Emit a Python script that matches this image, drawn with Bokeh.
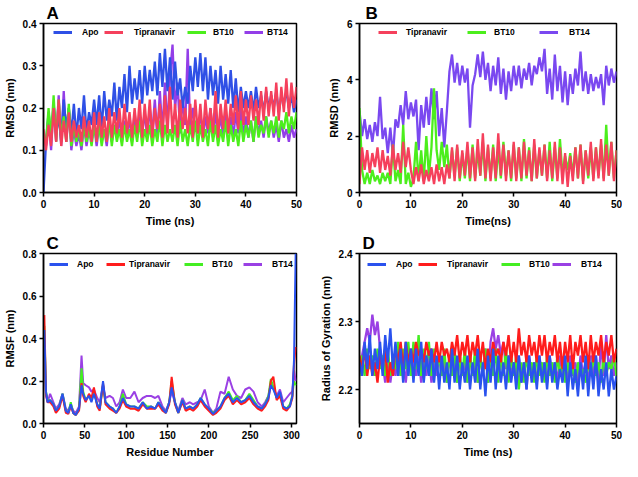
from bokeh.plotting import figure
from bokeh.layouts import gridplot
from bokeh.models import Legend, LegendItem, Range1d, FixedTicker, PrintfTickFormatter
from bokeh.embed import file_html
from bokeh.resources import INLINE

FONT = "Liberation Sans"

# ---------------- Panel A : RMSD (nm) ----------------
time_a = [i * 0.5 for i in range(101)]
a_apo = [0.0,
         0.12, 0.19, 0.13, 0.21, 0.14, 0.18, 0.12, 0.22, 0.15, 0.2,
         0.14, 0.21, 0.13, 0.2, 0.15, 0.23, 0.14, 0.19, 0.16, 0.22,
         0.16, 0.23, 0.15, 0.24, 0.17, 0.22, 0.18, 0.26, 0.17, 0.25,
         0.2, 0.28, 0.19, 0.3, 0.21, 0.27, 0.22, 0.29, 0.21, 0.3,
         0.23, 0.29, 0.24, 0.31, 0.23, 0.33, 0.25, 0.34, 0.24, 0.32,
         0.22, 0.31, 0.23, 0.27, 0.2, 0.25, 0.21, 0.3, 0.24, 0.32,
         0.25, 0.33, 0.24, 0.32, 0.22, 0.3, 0.23, 0.29, 0.21, 0.3,
         0.22, 0.28, 0.21, 0.29, 0.2, 0.27, 0.19, 0.25, 0.2, 0.24,
         0.2, 0.24, 0.19, 0.25, 0.2, 0.23, 0.19, 0.24, 0.2, 0.23,
         0.2, 0.24, 0.19, 0.23, 0.21, 0.24, 0.2, 0.23, 0.19, 0.22]
a_tip = [0.15,
         0.1, 0.16, 0.11, 0.2, 0.12, 0.22, 0.11, 0.17, 0.12, 0.19,
         0.12, 0.17, 0.13, 0.16, 0.12, 0.18, 0.13, 0.17, 0.12, 0.19,
         0.12, 0.19, 0.13, 0.18, 0.12, 0.2, 0.13, 0.19, 0.14, 0.2,
         0.13, 0.21, 0.14, 0.19, 0.13, 0.2, 0.14, 0.22, 0.13, 0.21,
         0.14, 0.22, 0.13, 0.2, 0.15, 0.21, 0.13, 0.23, 0.14, 0.25,
         0.14, 0.21, 0.13, 0.22, 0.15, 0.2, 0.14, 0.21, 0.13, 0.22,
         0.14, 0.21, 0.13, 0.22, 0.15, 0.2, 0.14, 0.24, 0.13, 0.21,
         0.15, 0.22, 0.14, 0.21, 0.16, 0.23, 0.15, 0.24, 0.16, 0.22,
         0.16, 0.23, 0.17, 0.22, 0.16, 0.24, 0.17, 0.25, 0.18, 0.24,
         0.18, 0.26, 0.17, 0.25, 0.19, 0.27, 0.18, 0.26, 0.2, 0.25]
a_bt10 = [0.13,
          0.12, 0.2, 0.13, 0.23, 0.12, 0.22, 0.13, 0.18, 0.12, 0.21,
          0.11, 0.16, 0.12, 0.15, 0.11, 0.16, 0.12, 0.15, 0.11, 0.16,
          0.12, 0.16, 0.11, 0.15, 0.12, 0.17, 0.11, 0.16, 0.12, 0.15,
          0.11, 0.16, 0.12, 0.15, 0.11, 0.16, 0.12, 0.17, 0.11, 0.15,
          0.12, 0.16, 0.11, 0.15, 0.12, 0.17, 0.11, 0.16, 0.12, 0.15,
          0.12, 0.16, 0.11, 0.17, 0.12, 0.15, 0.11, 0.16, 0.12, 0.17,
          0.11, 0.16, 0.12, 0.15, 0.11, 0.17, 0.12, 0.16, 0.11, 0.15,
          0.12, 0.17, 0.11, 0.16, 0.12, 0.15, 0.11, 0.17, 0.12, 0.16,
          0.13, 0.17, 0.12, 0.18, 0.13, 0.16, 0.14, 0.18, 0.13, 0.17,
          0.14, 0.18, 0.13, 0.17, 0.15, 0.19, 0.14, 0.18, 0.15, 0.19]
a_bt14 = [0.14,
          0.11, 0.18, 0.1, 0.21, 0.12, 0.23, 0.11, 0.24, 0.12, 0.2,
          0.1, 0.15, 0.11, 0.14, 0.1, 0.16, 0.11, 0.15, 0.12, 0.16,
          0.11, 0.16, 0.12, 0.15, 0.11, 0.17, 0.12, 0.16, 0.13, 0.18,
          0.12, 0.17, 0.13, 0.18, 0.12, 0.19, 0.13, 0.18, 0.14, 0.19,
          0.13, 0.2, 0.14, 0.22, 0.13, 0.24, 0.14, 0.26, 0.15, 0.28,
          0.35, 0.2, 0.26, 0.14, 0.22, 0.16, 0.34, 0.15, 0.2, 0.15,
          0.14, 0.19, 0.13, 0.18, 0.14, 0.2, 0.13, 0.19, 0.14, 0.18,
          0.13, 0.19, 0.14, 0.18, 0.13, 0.19, 0.14, 0.2, 0.13, 0.18,
          0.13, 0.17, 0.12, 0.18, 0.14, 0.17, 0.13, 0.18, 0.14, 0.17,
          0.13, 0.16, 0.12, 0.17, 0.13, 0.15, 0.12, 0.16, 0.13, 0.15]

# ---------------- Panel B : RMSD (nm) ----------------
time_b = [i * 0.5 for i in range(101)]
b_bt14 = [2.9,
          2.0, 2.6, 1.9, 2.4, 1.8, 2.5, 2.0, 3.4, 1.9, 2.3,
          1.4, 2.3, 1.3, 2.6, 2.3, 3.1, 2.4, 3.6, 2.6, 3.2,
          2.7, 3.3, 1.5, 3.1, 2.3, 3.4, 2.4, 3.7, 2.6, 3.6,
          2.0, 3.0, 1.6, 2.9, 4.3, 4.9, 3.9, 4.6, 3.8, 4.5,
          3.9, 4.4, 2.3, 3.8, 4.2, 4.9, 4.1, 5.0, 4.0, 4.6,
          3.6, 4.5, 3.8, 4.8, 3.5, 4.4, 3.3, 4.3, 3.6, 4.5,
          3.8, 4.5, 3.7, 4.4, 4.0, 4.6, 3.8, 4.5, 4.2, 4.8,
          4.3, 5.1, 3.5, 4.4, 3.3, 4.9, 3.6, 4.5, 3.2, 4.3,
          3.1, 4.2, 3.5, 4.4, 3.8, 5.0, 3.6, 4.3, 3.5, 4.2,
          3.6, 4.1, 3.7, 4.2, 3.1, 4.5, 3.8, 4.4, 3.9, 4.3]
b_tip = [0.3,
         1.6, 0.8, 1.5, 0.7, 1.4, 0.9, 1.6, 0.7, 1.5, 0.8,
         1.3, 0.6, 1.7, 0.8, 1.4, 0.7, 1.8, 0.9, 1.6, 0.8,
         0.3, 0.9, 0.4, 1.0, 0.3, 0.8, 0.4, 0.9, 0.3, 1.0,
         0.4, 0.9, 0.3, 1.0, 0.5, 1.6, 0.4, 1.7, 0.5, 1.5,
         0.6, 1.8, 0.5, 1.6, 0.4, 1.9, 0.6, 2.1, 0.5, 1.7,
         0.4, 1.6, 0.5, 2.1, 0.6, 1.7, 0.4, 1.5, 0.5, 1.8,
         0.4, 1.6, 0.5, 1.8, 0.6, 1.5, 0.4, 1.9, 0.5, 1.6,
         0.6, 1.7, 0.4, 1.5, 0.5, 1.8, 0.4, 1.6, 0.3, 1.4,
         0.2, 1.3, 0.4, 1.6, 0.5, 1.7, 0.3, 1.5, 0.6, 1.8,
         0.4, 1.6, 0.5, 1.9, 0.4, 1.7, 0.6, 1.8, 0.4, 1.5]
b_bt10 = [3.0,
          0.8, 0.3, 0.7, 0.3, 0.8, 0.4, 0.6, 0.3, 0.7, 0.4,
          0.7, 0.3, 1.7, 0.4, 0.8, 0.3, 2.4, 0.3, 0.7, 0.2,
          0.5, 1.8, 0.4, 1.5, 0.4, 2.0, 0.6, 1.6, 3.7, 1.5,
          0.8, 1.8, 0.9, 1.7, 0.5, 1.5, 0.6, 1.6, 0.4, 1.4,
          0.5, 1.6, 0.4, 1.7, 0.5, 1.5, 0.6, 1.8, 0.4, 1.6,
          0.5, 1.7, 0.4, 1.6, 0.5, 1.8, 0.6, 1.5, 0.4, 1.7,
          0.5, 1.6, 0.4, 1.9, 0.5, 1.6, 0.4, 1.7, 0.5, 1.5,
          0.6, 1.7, 0.5, 1.8, 0.4, 1.6, 0.5, 1.9, 0.6, 1.3,
          0.8, 1.4, 0.6, 1.6, 0.5, 1.7, 0.4, 1.5, 0.5, 1.6,
          0.5, 1.6, 0.6, 1.7, 0.5, 2.4, 0.6, 1.8, 0.5, 1.5]

# ---------------- Panel C : RMSF (nm) ----------------
residue = [1, 3, 5, 8, 12, 15, 19, 23, 27, 30, 33, 36, 39, 43, 46, 48, 51, 55, 58, 61,
           65, 68, 72, 75, 80, 84, 88, 92, 96, 100, 105, 110, 115, 120, 125, 130, 135, 139, 144, 148,
           152, 155, 159, 163, 168, 172, 177, 181, 186, 190, 195, 200, 205, 209, 214, 219, 224, 229, 234, 239,
           244, 249, 254, 259, 264, 268, 272, 275, 278, 282, 286, 290, 294, 298, 301, 303, 305]
c_apo = [0.44, 0.15, 0.1, 0.11, 0.09, 0.06, 0.08, 0.14, 0.06, 0.05,
         0.09, 0.05, 0.04, 0.07, 0.18, 0.14, 0.11, 0.13, 0.1, 0.14,
         0.09, 0.07, 0.2, 0.1, 0.08, 0.07, 0.05, 0.08, 0.12, 0.09,
         0.08, 0.08, 0.07, 0.1, 0.07, 0.08, 0.07, 0.1, 0.07, 0.05,
         0.1, 0.17, 0.1, 0.05, 0.11, 0.07, 0.08, 0.07, 0.09, 0.12,
         0.09, 0.07, 0.045, 0.06, 0.08, 0.12, 0.14, 0.1, 0.12, 0.1,
         0.11, 0.13, 0.1, 0.08, 0.07, 0.09, 0.12, 0.18, 0.16, 0.12,
         0.15, 0.08, 0.07, 0.08, 0.13, 0.3, 0.8]
c_tip = [0.51, 0.14, 0.1, 0.1, 0.08, 0.05, 0.07, 0.13, 0.05, 0.045,
         0.08, 0.05, 0.04, 0.06, 0.19, 0.13, 0.1, 0.14, 0.12, 0.17,
         0.08, 0.06, 0.19, 0.09, 0.07, 0.06, 0.05, 0.07, 0.11, 0.08,
         0.07, 0.07, 0.06, 0.09, 0.07, 0.07, 0.07, 0.09, 0.06, 0.05,
         0.09, 0.22, 0.09, 0.05, 0.1, 0.06, 0.07, 0.06, 0.08, 0.11,
         0.08, 0.06, 0.04, 0.05, 0.07, 0.11, 0.13, 0.09, 0.11, 0.09,
         0.1, 0.12, 0.09, 0.07, 0.06, 0.08, 0.11, 0.2, 0.22, 0.11,
         0.13, 0.07, 0.06, 0.08, 0.12, 0.28, 0.36]
c_bt10 = [0.46, 0.15, 0.11, 0.11, 0.09, 0.06, 0.08, 0.14, 0.06, 0.05,
          0.1, 0.05, 0.04, 0.07, 0.26, 0.15, 0.11, 0.13, 0.11, 0.15,
          0.09, 0.07, 0.18, 0.1, 0.08, 0.07, 0.05, 0.08, 0.14, 0.09,
          0.08, 0.08, 0.07, 0.1, 0.08, 0.08, 0.07, 0.1, 0.07, 0.05,
          0.1, 0.2, 0.1, 0.05, 0.11, 0.07, 0.08, 0.07, 0.09, 0.12,
          0.09, 0.07, 0.05, 0.06, 0.08, 0.12, 0.15, 0.11, 0.13, 0.1,
          0.11, 0.14, 0.11, 0.08, 0.07, 0.09, 0.13, 0.21, 0.17, 0.12,
          0.14, 0.08, 0.07, 0.09, 0.13, 0.2, 0.18]
c_bt14 = [0.3, 0.13, 0.1, 0.14, 0.1, 0.07, 0.09, 0.14, 0.07, 0.06,
          0.09, 0.06, 0.05, 0.08, 0.32, 0.19, 0.18, 0.17, 0.15, 0.16,
          0.12, 0.1, 0.18, 0.12, 0.13, 0.12, 0.08, 0.1, 0.16, 0.12,
          0.12, 0.15, 0.1, 0.12, 0.13, 0.13, 0.12, 0.13, 0.08, 0.06,
          0.1, 0.15, 0.1, 0.06, 0.12, 0.09, 0.1, 0.09, 0.1, 0.11,
          0.16, 0.08, 0.05, 0.07, 0.15, 0.14, 0.22, 0.16, 0.13, 0.12,
          0.16, 0.17, 0.15, 0.1, 0.08, 0.1, 0.13, 0.19, 0.17, 0.13,
          0.16, 0.1, 0.12, 0.14, 0.15, 0.25, 0.2]

# ---------------- Panel D : Radius of Gyration (nm) ----------------
time_d = [i * 0.5 for i in range(101)]
d_apo = [2.24,
         2.22, 2.27, 2.23, 2.28, 2.22, 2.26, 2.23, 2.27, 2.22, 2.28,
         2.24, 2.29, 2.23, 2.27, 2.22, 2.26, 2.21, 2.27, 2.22, 2.26,
         2.21, 2.26, 2.22, 2.27, 2.21, 2.25, 2.22, 2.26, 2.21, 2.25,
         2.2, 2.25, 2.21, 2.24, 2.2, 2.26, 2.21, 2.25, 2.2, 2.24,
         2.21, 2.25, 2.2, 2.24, 2.21, 2.26, 2.2, 2.24, 2.19, 2.25,
         2.21, 2.26, 2.2, 2.25, 2.21, 2.24, 2.2, 2.25, 2.21, 2.24,
         2.2, 2.25, 2.21, 2.24, 2.2, 2.25, 2.21, 2.24, 2.2, 2.25,
         2.21, 2.24, 2.2, 2.25, 2.21, 2.24, 2.2, 2.23, 2.21, 2.25,
         2.19, 2.24, 2.2, 2.23, 2.19, 2.24, 2.2, 2.25, 2.19, 2.24,
         2.2, 2.25, 2.19, 2.23, 2.2, 2.24, 2.19, 2.23, 2.2, 2.22]
d_tip = [2.25,
         2.23, 2.26, 2.22, 2.25, 2.22, 2.24, 2.21, 2.25, 2.23, 2.26,
         2.21, 2.24, 2.22, 2.26, 2.24, 2.27, 2.23, 2.27, 2.24, 2.26,
         2.24, 2.27, 2.25, 2.26, 2.24, 2.27, 2.25, 2.26, 2.24, 2.27,
         2.24, 2.27, 2.25, 2.26, 2.24, 2.27, 2.25, 2.28, 2.24, 2.27,
         2.25, 2.28, 2.24, 2.27, 2.25, 2.28, 2.24, 2.27, 2.23, 2.26,
         2.24, 2.27, 2.25, 2.26, 2.24, 2.27, 2.25, 2.28, 2.24, 2.27,
         2.24, 2.29, 2.25, 2.27, 2.24, 2.28, 2.25, 2.27, 2.24, 2.28,
         2.25, 2.28, 2.24, 2.27, 2.25, 2.28, 2.24, 2.27, 2.23, 2.27,
         2.24, 2.28, 2.23, 2.27, 2.25, 2.28, 2.24, 2.27, 2.23, 2.28,
         2.24, 2.27, 2.25, 2.28, 2.24, 2.27, 2.25, 2.28, 2.24, 2.26]
d_bt10 = [2.22,
          2.25, 2.22, 2.26, 2.23, 2.25, 2.22, 2.26, 2.23, 2.25, 2.22,
          2.26, 2.22, 2.25, 2.23, 2.27, 2.22, 2.26, 2.23, 2.27, 2.22,
          2.27, 2.23, 2.28, 2.22, 2.26, 2.23, 2.27, 2.22, 2.26, 2.23,
          2.25, 2.22, 2.26, 2.21, 2.25, 2.22, 2.26, 2.21, 2.25, 2.22,
          2.26, 2.21, 2.25, 2.22, 2.26, 2.21, 2.25, 2.22, 2.26, 2.21,
          2.25, 2.22, 2.26, 2.21, 2.25, 2.22, 2.26, 2.21, 2.25, 2.22,
          2.25, 2.2, 2.24, 2.21, 2.25, 2.22, 2.24, 2.21, 2.25, 2.22,
          2.24, 2.21, 2.25, 2.22, 2.24, 2.21, 2.25, 2.22, 2.24, 2.21,
          2.24, 2.22, 2.23, 2.21, 2.24, 2.22, 2.23, 2.21, 2.24, 2.22,
          2.25, 2.22, 2.24, 2.21, 2.25, 2.22, 2.24, 2.23, 2.25, 2.22]
d_bt14 = [2.22,
          2.25, 2.27, 2.29, 2.27, 2.31, 2.28, 2.3, 2.26, 2.24, 2.21,
          2.25, 2.21, 2.24, 2.22, 2.25, 2.22, 2.24, 2.21, 2.25, 2.22,
          2.24, 2.22, 2.25, 2.21, 2.24, 2.22, 2.25, 2.21, 2.24, 2.22,
          2.25, 2.22, 2.24, 2.21, 2.25, 2.22, 2.24, 2.21, 2.25, 2.22,
          2.24, 2.21, 2.25, 2.22, 2.24, 2.21, 2.25, 2.22, 2.26, 2.21,
          2.27, 2.29, 2.26, 2.28, 2.25, 2.27, 2.23, 2.25, 2.22, 2.24,
          2.22, 2.25, 2.21, 2.24, 2.2, 2.25, 2.22, 2.24, 2.21, 2.25,
          2.22, 2.24, 2.21, 2.25, 2.22, 2.24, 2.21, 2.25, 2.22, 2.24,
          2.21, 2.25, 2.22, 2.24, 2.21, 2.25, 2.22, 2.24, 2.21, 2.25,
          2.22, 2.25, 2.21, 2.27, 2.22, 2.28, 2.23, 2.25, 2.22, 2.24]

# tick values / labels
time_ticks = [0, 10, 20, 30, 40, 50]
a_yticks = [0.0, 0.1, 0.2, 0.3, 0.4]
b_yticks = [0, 2, 4, 6]
c_xticks = [0, 50, 100, 150, 200, 250, 300]
c_yticks = [0.0, 0.2, 0.4, 0.6, 0.8]
d_yticks = [2.2, 2.3, 2.4]


def make_fig(w, h, left, right, top, bottom, xr, yr, xticks, yticks, xfmt, yfmt,
             xlabel, ylabel, letter, letter_off):
    p = figure(width=w, height=h, x_range=Range1d(*xr), y_range=Range1d(*yr),
               output_backend="svg", toolbar_location=None,
               min_border_left=left, min_border_right=right,
               min_border_top=top, min_border_bottom=bottom)
    p.title.text = letter
    p.title.text_font = FONT
    p.title.text_font_style = "bold"
    p.title.text_font_size = "17px"
    p.title.text_color = "black"
    p.title.align = "left"
    p.title.offset = letter_off
    p.title.standoff = 2
    p.title.text_line_height = 1.0
    p.xgrid.visible = False
    p.ygrid.visible = False
    p.outline_line_color = "black"
    p.outline_line_width = 1.5
    p.outline_line_alpha = 1.0
    p.background_fill_color = "white"
    p.border_fill_color = "white"
    p.xaxis.ticker = FixedTicker(ticks=xticks)
    p.yaxis.ticker = FixedTicker(ticks=yticks)
    p.xaxis.formatter = PrintfTickFormatter(format=xfmt)
    p.yaxis.formatter = PrintfTickFormatter(format=yfmt)
    p.xaxis.axis_label = xlabel
    p.yaxis.axis_label = ylabel
    for ax in (p.xaxis[0], p.yaxis[0]):
        ax.axis_label_text_font = FONT
        ax.axis_label_text_font_style = "bold"
        ax.axis_label_text_font_size = "11px"
        ax.axis_label_text_color = "black"
        ax.axis_label_standoff = 4
        ax.major_label_text_font = FONT
        ax.major_label_text_font_style = "bold"
        ax.major_label_text_font_size = "10px"
        ax.major_label_text_color = "black"
        ax.major_label_standoff = 3
        ax.major_tick_out = 4
        ax.major_tick_in = 0
        ax.minor_tick_out = 0
        ax.minor_tick_in = 0
        ax.axis_line_width = 1.5
        ax.axis_line_color = "black"
        ax.major_tick_line_width = 1.5
        ax.major_tick_line_color = "black"
    return p


def add_legend(p, fh, xs, ys, entries, ycenter):
    for label, color, xoff, standoff in entries:
        # proxy renderer (a single data point, draws nothing) used for the thick legend line
        proxy = p.line(x=xs[:1], y=ys[:1], line_color=color, line_width=3)
        leg = Legend(items=[LegendItem(label=label, renderers=[proxy])],
                     location=(xoff, fh - ycenter - 5),
                     padding=0, margin=0, spacing=0,
                     glyph_width=19, glyph_height=10, label_height=10,
                     label_standoff=standoff,
                     border_line_alpha=0, background_fill_alpha=0,
                     label_text_font=FONT, label_text_font_style="bold",
                     label_text_font_size="8.5px", label_text_color="black")
        p.add_layout(leg)


BLUE_AB = "#2f50e6"
RED_AB = "#f5405c"
GREEN_AB = "#4cee1c"
PURPLE_A = "#933ee8"
PURPLE_B = "#7a48f0"
BLUE_CD = "#2a52ee"
RED_CD = "#ff1c1c"
GREEN_CD = "#44ee22"
PURPLE_CD = "#9a40e4"
LW = 2.3

# Panel A
fhA = 172
pA = make_fig(311, 230, 38, 15, 20, 38, (0, 50), (0, 0.4), time_ticks, a_yticks,
              "%d", "%.1f", "Time (ns)", "RMSD (nm)", "A", 3)
pA.line(time_a, a_bt14, line_color=PURPLE_A, line_width=LW)
pA.line(time_a, a_apo, line_color=BLUE_AB, line_width=LW)
pA.line(time_a, a_bt10, line_color=GREEN_AB, line_width=LW)
pA.line(time_a, a_tip, line_color=RED_AB, line_width=LW)
add_legend(pA, fhA, time_a, a_apo,
           [("Apo", BLUE_AB, 10, 10), ("Tipranavir", RED_AB, 61, 11),
            ("BT10", GREEN_AB, 144, 7), ("BT14", PURPLE_A, 201, 4)], 12)

# Panel B
fhB = 170
pB = make_fig(311, 230, 45, 6, 22, 38, (0, 50), (0, 6), time_ticks, b_yticks,
              "%d", "%d", "Time(ns)", "RMSD (nm)", "B", 6)
pB.line(time_b, b_bt14, line_color=PURPLE_B, line_width=LW)
pB.line(time_b, b_bt10, line_color=GREEN_AB, line_width=LW)
pB.line(time_b, b_tip, line_color=RED_AB, line_width=LW)
add_legend(pB, fhB, time_b, b_tip,
           [("Tipranavir", RED_AB, 19, 9), ("BT10", GREEN_AB, 108, 8),
            ("BT14", PURPLE_B, 180, 11)], 10)

# Panel C
fhC = 170
pC = make_fig(311, 231, 39, 14, 23, 38, (0, 306), (0, 0.8), c_xticks, c_yticks,
              "%d", "%.1f", "Residue Number", "RMSF (nm)", "C", 3)
pC.line(residue, c_bt14, line_color=PURPLE_CD, line_width=2)
pC.line(residue, c_bt10, line_color=GREEN_CD, line_width=2)
pC.line(residue, c_tip, line_color=RED_CD, line_width=2)
pC.line(residue, c_apo, line_color=BLUE_CD, line_width=2)
add_legend(pC, fhC, residue, c_apo,
           [("Apo", BLUE_CD, 6, 9), ("Tipranavir", RED_CD, 63, 4),
            ("BT10", GREEN_CD, 141, 9), ("BT14", PURPLE_CD, 200, 10)], 11)

# Panel D
fhD = 170
pD = make_fig(311, 231, 48, 6, 23, 38, (0, 50), (2.15, 2.4), time_ticks, d_yticks,
              "%d", "%.1f", "Time (ns)", "Radius of Gyration (nm)", "D", 3)
pD.line(time_d, d_bt14, line_color=PURPLE_CD, line_width=LW)
pD.line(time_d, d_bt10, line_color=GREEN_CD, line_width=LW)
pD.line(time_d, d_tip, line_color=RED_CD, line_width=LW)
pD.line(time_d, d_apo, line_color=BLUE_CD, line_width=LW)
add_legend(pD, fhD, time_d, d_apo,
           [("Apo", BLUE_CD, 8, 10), ("Tipranavir", RED_CD, 59, 10),
            ("BT10", GREEN_CD, 142, 9), ("BT14", PURPLE_CD, 193, 10)], 11)

grid = gridplot([[pA, pB], [pC, pD]], toolbar_location=None)

open("out.html", "w").write(file_html(grid, INLINE))
